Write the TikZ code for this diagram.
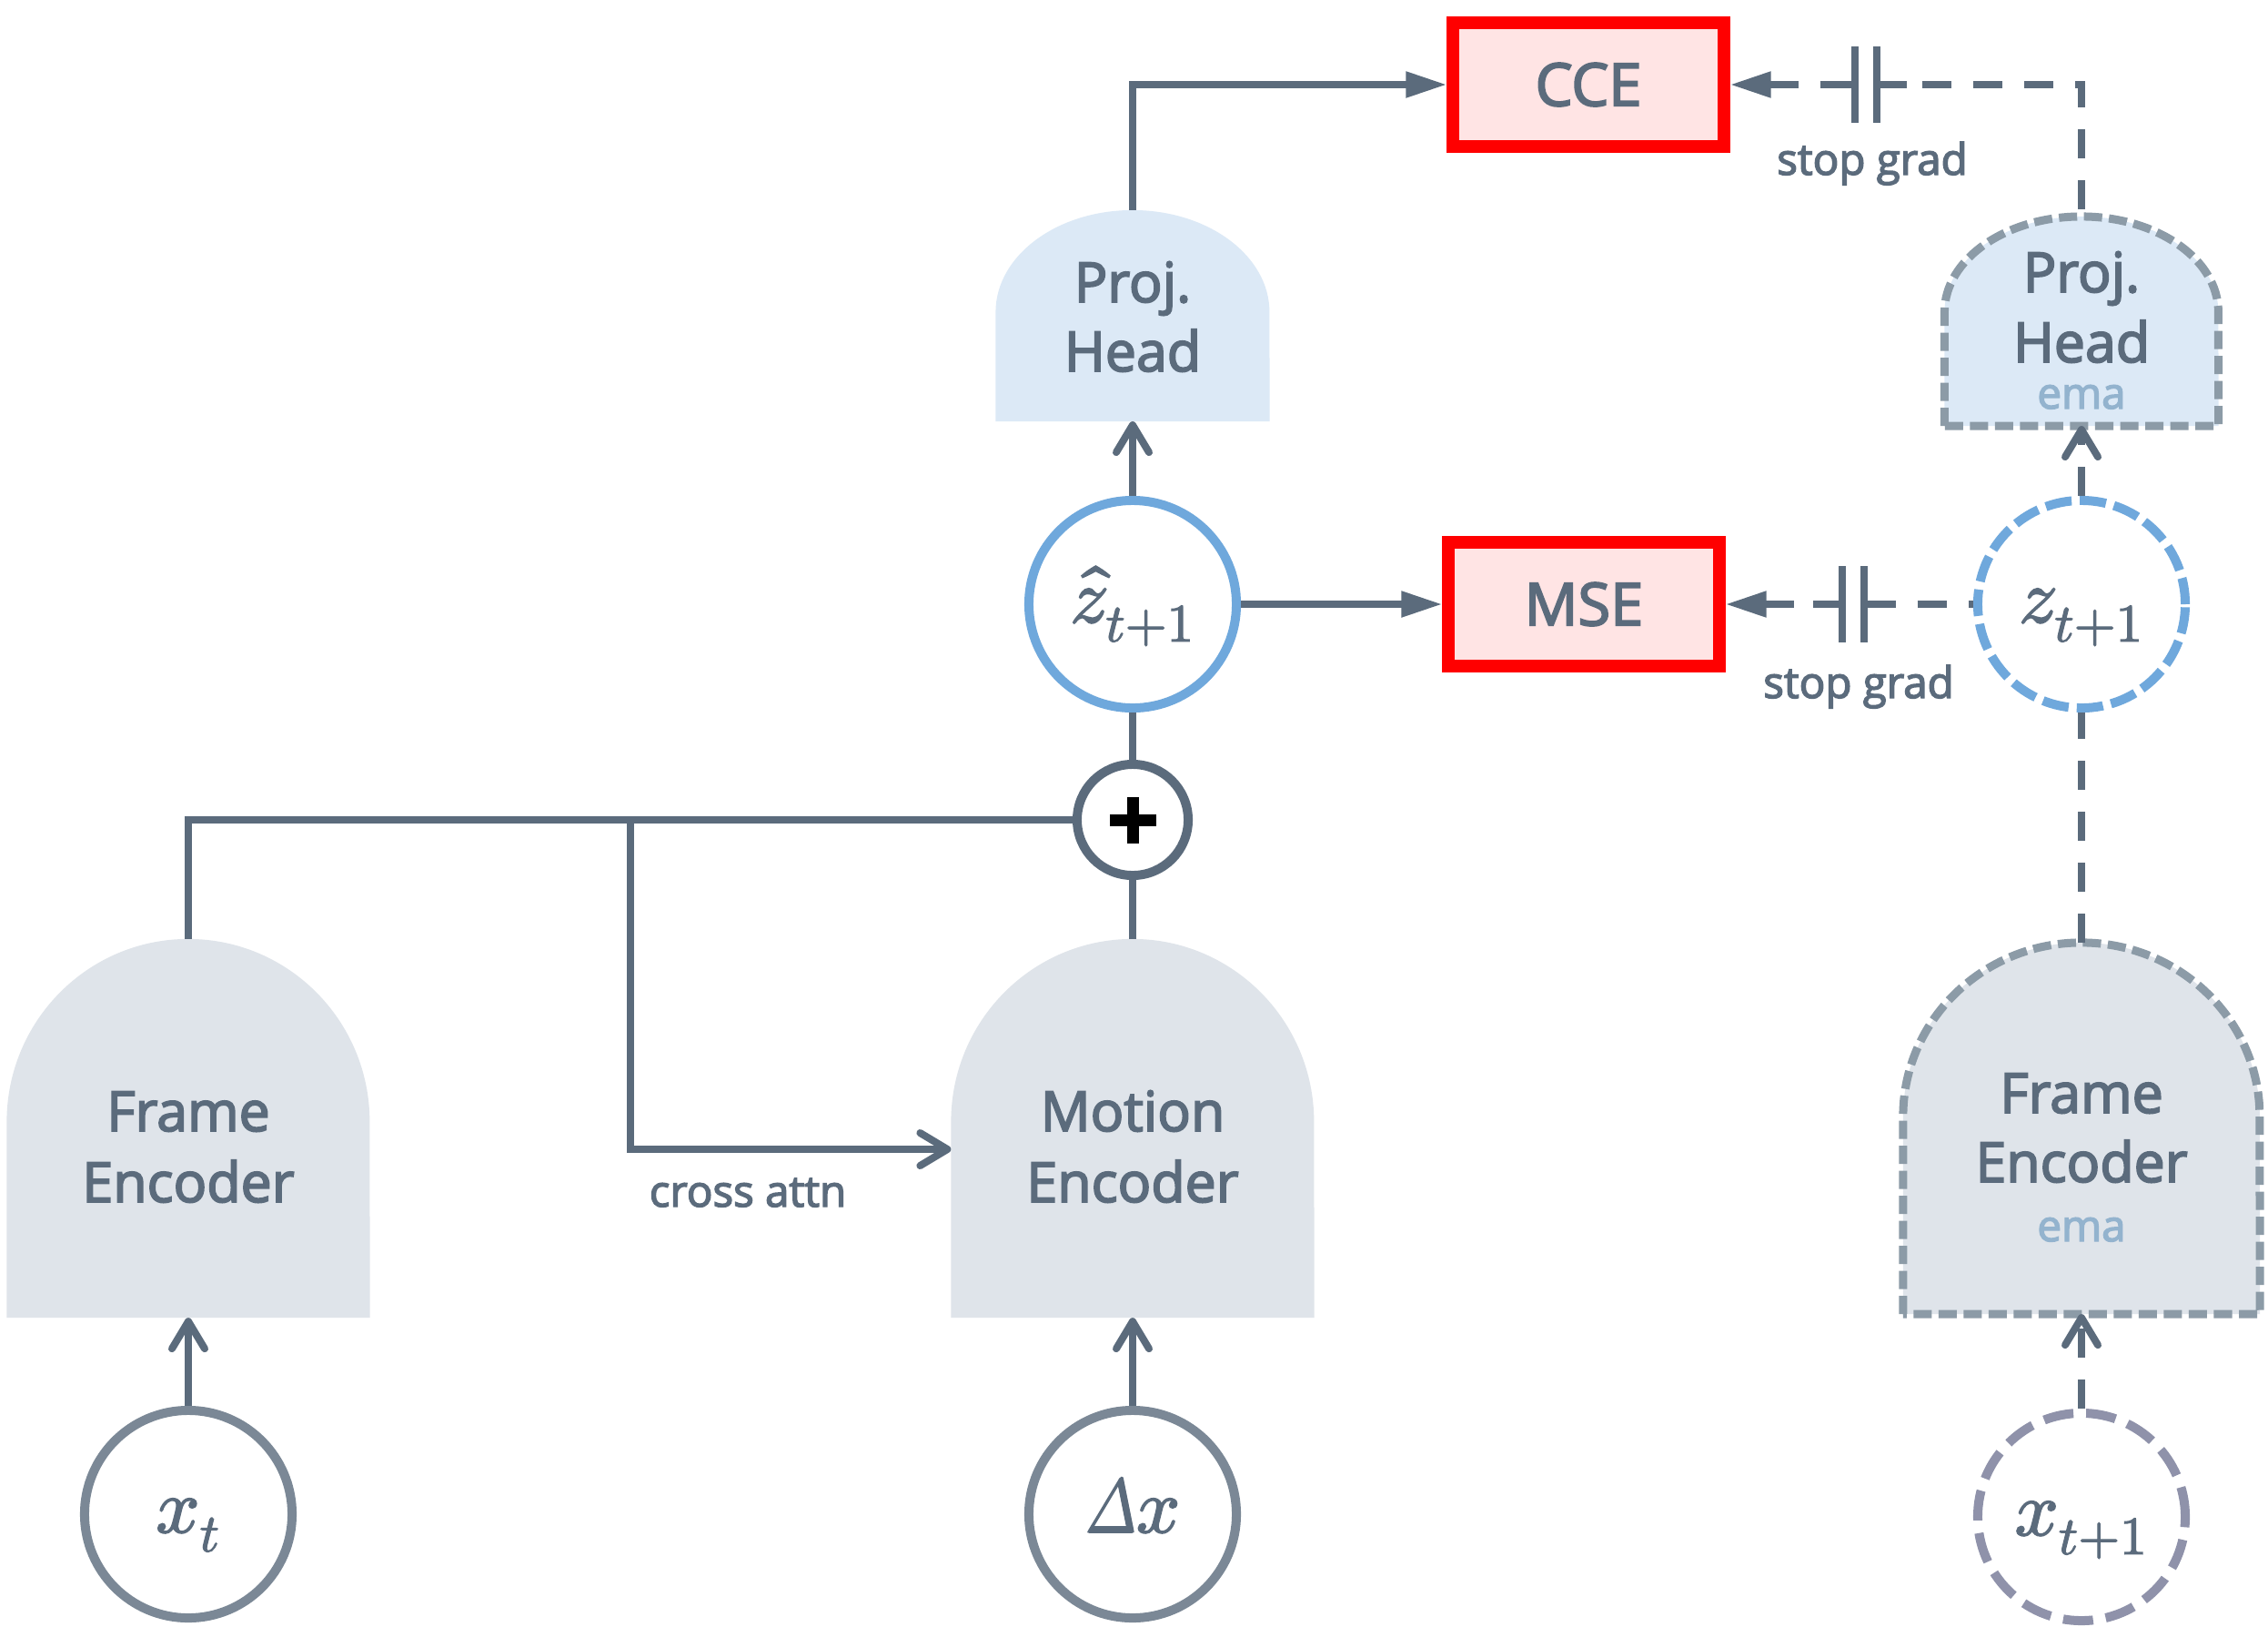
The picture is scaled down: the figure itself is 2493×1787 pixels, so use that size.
\documentclass[tikz,border=0pt]{standalone}
\usepackage{amsmath}
\usepackage{graphicx}
\usepackage{unicode-math}
\setmainfont{Open Sans}[FakeBold=3]
\setmathfont{Latin Modern Math}[FakeBold=2]
\usetikzlibrary{arrows.meta,calc}
\definecolor{slate}{HTML}{5B6B7C}
\definecolor{encfill}{HTML}{DFE4EA}
\definecolor{projfill}{HTML}{DCE9F6}
\definecolor{lossred}{HTML}{FF0000}
\definecolor{losspink}{HTML}{FFE4E4}
\definecolor{zblue}{HTML}{6FA8DC}
\definecolor{circgray}{HTML}{7B8896}
\definecolor{dashgray}{HTML}{8C9BA7}
\definecolor{pgray}{HTML}{8F92AA}
\definecolor{emablue}{HTML}{93B3CE}
\newcommand\dome[3]{(#1.south west) -- ($(#1.north west)+(0,#2)$) arc[start angle=180,end angle=360,x radius=#3,y radius=#2] -- (#1.south east) -- cycle}
\newcommand\stopgrad[1]{%
  \fill[white] ($(#1)+(-8,-6)$) rectangle ($(#1)+(8,6)$);
  \draw[conn] ($(#1)+(-44,0)$) -- ($(#1)+(-12,0)$);
  \draw[conn] ($(#1)+(12,0)$) -- ($(#1)+(45,0)$);
  \draw[conn] ($(#1)+(-12,-42)$) -- ($(#1)+(-12,42)$);
  \draw[conn] ($(#1)+(12,-42)$) -- ($(#1)+(12,42)$);
}
\tikzset{
  lbl/.style={inner sep=0, anchor=base, text=slate, font=\fontsize{17.3}{20}\selectfont},
  slbl/.style={inner sep=0, anchor=base, text=slate, font=\fontsize{13.5}{16}\selectfont},
  emalbl/.style={slbl, text=emablue},
  domebox/.style={inner sep=0, outer sep=0, draw=none},
  mcirc/.style={circle, line width=0.1cm, fill=white, text=slate, font=\fontsize{24}{28}\selectfont, minimum size=2.28cm, inner sep=0, text height=0.5cm, text depth=0.1cm},
  conn/.style={draw=slate, line width=0.08cm},
  dconn/.style={conn, dash pattern=on 0.32cm off 0.24cm},
  openarr/.style={-{Straight Barb[length=0.3cm,width=0.36cm,round]}},
  fillarr/.style={-{Triangle[length=0.45cm,width=0.27cm]}},
  lossbox/.style={draw=lossred, fill=losspink, line width=0.14cm, minimum width=2.97cm, minimum height=1.36cm, inner sep=0, text=slate, font=\fontsize{18.5}{20}\selectfont},
}
\begin{document}
\begin{tikzpicture}[x=0.01cm,y=-0.01cm]
\useasboundingbox[fill=white] (0,0) rectangle (2493,1787);

% dome regions
\node[domebox, minimum width=3.99cm, minimum height=4.16cm] (fe) at (207,1240) {};
\node[domebox, minimum width=3.99cm, minimum height=4.16cm] (me) at (1245,1240) {};
\node[domebox, minimum width=3.01cm, minimum height=2.32cm] (ph) at (1245,347) {};
\node[domebox, minimum width=3.92cm, minimum height=4.08cm] (fe2) at (2288,1240) {};
\node[domebox, minimum width=3.01cm, minimum height=2.30cm] (ph2) at (2288,353) {};

\fill[encfill] \dome{fe}{201}{199.5};
\fill[encfill] \dome{me}{201}{199.5};
\fill[projfill] \dome{ph}{112}{150.5};
\filldraw[fill=encfill, draw=dashgray, line width=0.09cm, dash pattern=on 0.2cm off 0.075cm] \dome{fe2}{191}{196};
\filldraw[fill=projfill, draw=dashgray, line width=0.09cm, dash pattern=on 0.2cm off 0.075cm] \dome{ph2}{105}{150.5};

% labels in domes
\node[lbl] (feA) at (207,1243) {Frame};
\node[lbl] (feB) at (207,1321) {Encoder};
\node[lbl] (meA) at (1245,1243) {Motion};
\node[lbl] (meB) at (1245,1321) {Encoder};
\node[lbl] (phA) at (1245,332) {Proj.};
\node[lbl] (phB) at (1245,408) {Head};
\node[lbl] (fe2A) at (2288,1223) {Frame};
\node[lbl] (fe2B) at (2288,1299) {Encoder};
\node[emalbl] (fe2C) at (2288,1364) {ema};
\node[lbl] (ph2A) at (2288,321) {Proj.};
\node[lbl] (ph2B) at (2288,398) {Head};
\node[emalbl] (ph2C) at (2288,449) {ema};

% loss boxes
\node[lossbox] (cce) at (1746,93) {CCE};
\node[lossbox] (mse) at (1741,664) {MSE};

% circles
\node[mcirc, draw=circgray] (xt) at (207,1664) {$x_t$};
\node[mcirc, draw=circgray] (dx) at (1245,1664) {$\scalebox{0.8}[1]{$\symit{\Delta}$}x$};
\node[mcirc, draw=zblue] (zh) at (1245,664) {$\hat{z}_{t+1}$};
\node[mcirc, draw=zblue, dash pattern=on 0.29cm off 0.09cm] (z1) at (2288,664) {$z_{t+1}$};
\node[mcirc, draw=pgray, dash pattern=on 0.33cm off 0.14cm] (x1) at (2288,1667) {$x_{t+1}$};
\node[circle, draw=slate, line width=0.1cm, fill=white, minimum size=1.22cm, inner sep=0] (plus) at (1245,901) {};
\fill[black] ($(plus.center)+(-25.5,-6.5)$) rectangle ($(plus.center)+(25.5,6.5)$);
\fill[black] ($(plus.center)+(-6.5,-25.5)$) rectangle ($(plus.center)+(6.5,25.5)$);

% solid connectors
\draw[conn, openarr] (xt.north) -- (fe.south);
\draw[conn, openarr] (dx.north) -- (me.south);
\draw[conn] (fe.north) |- (plus.west);
\coordinate (br) at (693,901);
\draw[conn, openarr] (br) |- ([yshift=1.85cm]me.south west);
\node[slbl] (ca) at (822,1326) {cross attn};
\draw[conn] (me.north) -- (plus.south);
\draw[conn] (plus.north) -- (zh.south);
\draw[conn, openarr] (zh.north) -- (ph.south);
\draw[conn, fillarr] (ph.north) |- (cce.west);
\draw[conn, fillarr] (zh.east) -- (mse.west);

% dashed connectors
\draw[dconn, openarr] (x1.north) -- (fe2.south);
\draw[dconn] (fe2.north) -- (z1.south);
\draw[dconn, openarr] (z1.north) -- (ph2.south);
\draw[dconn, {Triangle[length=0.45cm,width=0.27cm]}-] (cce.east) -| (ph2.north);
\draw[dconn, {Triangle[length=0.45cm,width=0.27cm]}-] (mse.east) -- (z1.west);

% stop grad marks
\coordinate (sg1) at (2051,93);
\coordinate (sg2) at (2037,664);
\stopgrad{sg1}
\stopgrad{sg2}
\node[slbl] (sgl1) at (2058,192) {stop grad};
\node[slbl] (sgl2) at (2043,767) {stop grad};
\end{tikzpicture}
\end{document}
